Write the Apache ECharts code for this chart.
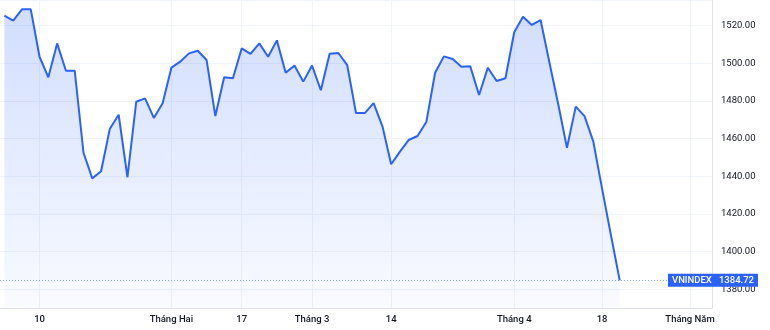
<!DOCTYPE html>
<html>
<head>
<meta charset="utf-8">
<script src="https://cdn.jsdelivr.net/npm/echarts@6/dist/echarts.min.js"></script>
<style>
html,body{margin:0;padding:0;background:#fff;}
#chart{width:770px;height:330px;}
</style>
</head>
<body>
<div id="chart"></div>
<script>
// Trading days shown on the axis (last ten are future sessions with no data yet)
var dates = [
 '2022-01-04','2022-01-05','2022-01-06','2022-01-07','2022-01-10','2022-01-11','2022-01-12','2022-01-13','2022-01-14',
 '2022-01-17','2022-01-18','2022-01-19','2022-01-20','2022-01-21','2022-01-24','2022-01-25','2022-01-26','2022-01-27','2022-01-28',
 '2022-02-07','2022-02-08','2022-02-09','2022-02-10','2022-02-11','2022-02-14','2022-02-15','2022-02-16','2022-02-17','2022-02-18',
 '2022-02-21','2022-02-22','2022-02-23','2022-02-24','2022-02-25','2022-02-28','2022-03-01','2022-03-02','2022-03-03','2022-03-04',
 '2022-03-07','2022-03-08','2022-03-09','2022-03-10','2022-03-11','2022-03-14','2022-03-15','2022-03-16','2022-03-17','2022-03-18',
 '2022-03-21','2022-03-22','2022-03-23','2022-03-24','2022-03-25','2022-03-28','2022-03-29','2022-03-30','2022-03-31','2022-04-01',
 '2022-04-04','2022-04-05','2022-04-06','2022-04-07','2022-04-08','2022-04-12','2022-04-13','2022-04-14','2022-04-15','2022-04-18',
 '2022-04-19','2022-04-20','2022-04-21','2022-04-22','2022-04-25','2022-04-26','2022-04-27','2022-04-28','2022-04-29','2022-05-04',
 '2022-05-05','2022-05-06'
];
// VNINDEX closes
var closes = [
 1525.3,1522.7,1528.7,1528.7,1503.5,1492.6,1510.6,1496.1,1496.1,
 1452.5,1438.9,1442.7,1465.3,1472.7,1439.5,1479.6,1481.4,1471.0,1478.8,
 1497.7,1500.9,1505.3,1506.7,1501.8,1472.0,1492.6,1492.1,1508.0,1505.0,
 1510.6,1503.5,1512.2,1495.0,1498.8,1490.3,1498.8,1485.7,1505.1,1505.5,
 1499.1,1473.6,1473.6,1478.9,1466.7,1446.4,1453.1,1459.3,1461.4,1468.8,
 1495.0,1503.7,1502.3,1498.2,1498.4,1483.2,1497.7,1490.6,1492.1,1516.5,
 1524.8,1520.4,1523.0,1500.6,1478.4,1455.2,1477.0,1472.0,1458.4,1433.3,
 1408.8,1384.72
];
var tickDates = ['2022-01-10','2022-02-07','2022-02-17','2022-03-01','2022-03-14','2022-04-01','2022-04-18','2022-05-04'];
var tickTexts = ['10','Tháng Hai','17','Tháng 3','14','Tháng 4','18','Tháng Năm'];
var seriesName = 'VNINDEX';
var lastClose = 1384.72;

var seriesData = dates.map(function(d, i){ return i < closes.length ? closes[i] : null; });
function isTick(idx){ return tickDates.indexOf(dates[idx]) >= 0; }

var chart = echarts.init(document.getElementById('chart'), null, {renderer:'canvas'});
var FONT = 'Roboto';
chart.setOption({
  animation: false,
  backgroundColor: '#ffffff',
  grid: {left: 0, right: 58, top: 0, bottom: 22, containLabel: false},
  xAxis: {
    type: 'category',
    data: dates,
    boundaryGap: true,
    axisLine: {show: true, lineStyle: {color: '#e0e3eb', width: 1}},
    axisTick: {show: false},
    axisLabel: {
      interval: function(idx){ return isTick(idx); },
      formatter: function(v){ var k = tickDates.indexOf(v); return k >= 0 ? tickTexts[k] : ''; },
      color: '#131722', fontFamily: FONT, fontSize: 9.5, fontWeight: 500, margin: 7
    },
    splitLine: {
      show: true,
      alignWithLabel: true,
      interval: function(idx){ return isTick(idx); },
      lineStyle: {color: '#f0f3fa', width: 1}
    }
  },
  yAxis: {
    type: 'value',
    position: 'right',
    min: 1370.04,
    max: 1533.65,
    minInterval: 20,
    maxInterval: 20,
    axisLine: {show: true, lineStyle: {color: '#e0e3eb', width: 1}},
    axisTick: {show: false},
    axisLabel: {
      showMinLabel: false, showMaxLabel: false,
      formatter: function(v){ return v.toFixed(2); },
      color: '#131722', fontFamily: FONT, fontSize: 9.5, margin: 9
    },
    splitLine: {show: true, lineStyle: {color: '#f0f3fa', width: 1}}
  },
  series: [{
    name: seriesName,
    type: 'line',
    data: seriesData,
    showSymbol: false,
    symbol: 'none',
    connectNulls: false,
    lineStyle: {color: '#2962ff', width: 2},
    itemStyle: {color: '#2962ff'},
    areaStyle: {
      origin: 'start',
      color: new echarts.graphic.LinearGradient(0, 0, 0, 1, [
        {offset: 0, color: 'rgba(41,98,255,0.30)'},
        {offset: 1, color: 'rgba(41,98,255,0.04)'}
      ])
    },
    emphasis: {disabled: true},
    markLine: {
      silent: true,
      symbol: ['none', 'none'],
      animation: false,
      lineStyle: {color: 'rgba(41,98,255,0.55)', type: [1, 2], width: 1},
      label: {
        show: true,
        position: 'end',
        distance: -44,
        backgroundColor: '#2962ff',
        padding: [2, 4, 1, 4],
        formatter: function(){ return '{a|' + seriesName + '}{b|' + lastClose.toFixed(2) + '}'; },
        rich: {
          a: {color: '#ffffff', fontFamily: FONT, fontSize: 9.5, fontWeight: 500, width: 50, align: 'left'},
          b: {color: '#ffffff', fontFamily: FONT, fontSize: 9.5, fontWeight: 500, width: 32, align: 'right'}
        }
      },
      data: [{yAxis: lastClose}]
    }
  }]
});
</script>
</body>
</html>
